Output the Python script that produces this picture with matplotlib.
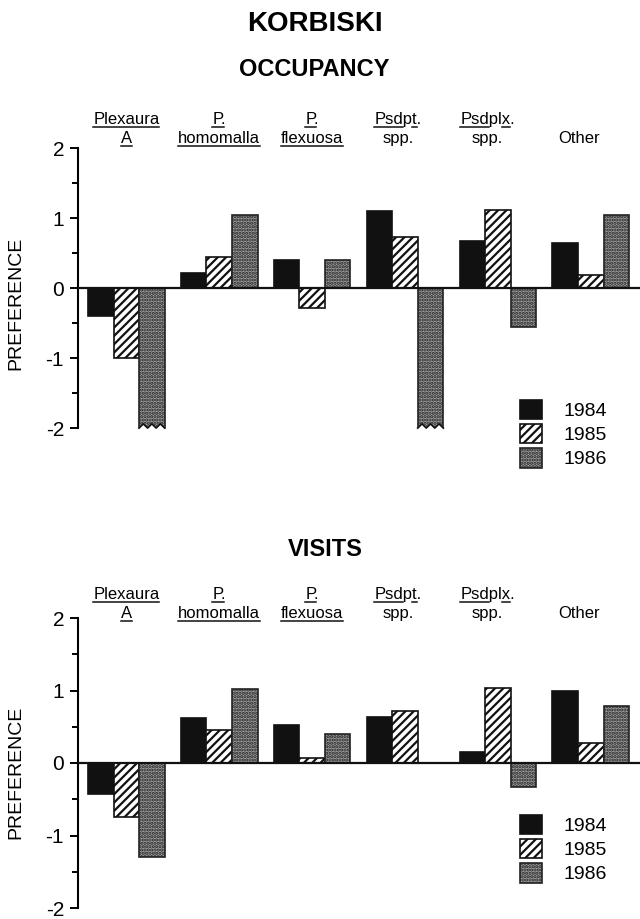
import matplotlib
matplotlib.use("Agg")
import matplotlib.pyplot as plt
import numpy as np
from matplotlib.patches import Patch
from matplotlib.lines import Line2D
from matplotlib.transforms import IdentityTransform, blended_transform_factory
from matplotlib.font_manager import FontProperties
from matplotlib.ticker import MultipleLocator

plt.rcParams["font.family"] = ["Liberation Sans", "DejaVu Sans"]
plt.rcParams["hatch.linewidth"] = 1.6

years = ["1984", "1985", "1986"]
# two-line category headings; spans give the underlined character ranges
cat_line1 = ["Plexaura", "P.", "P.", "Psdpt.", "Psdplx.", ""]
cat_line1_ul = [[(0, 8)], [(0, 1)], [(0, 1)], [(0, 3), (4, 5)], [(0, 3), (5, 6)], []]
cat_line2 = ["A", "homomalla", "flexuosa", "spp.", "spp.", "Other"]
cat_line2_ul = [[(0, 1)], [(0, 9)], [(0, 8)], [], [], []]

occ_1984 = [-0.40, 0.22, 0.40, 1.10, 0.67, 0.65]
occ_1985 = [-1.00, 0.44, -0.28, 0.73, 1.12, 0.18]
occ_1986 = [-2.00, 1.05, 0.40, -2.00, -0.55, 1.05]

vis_1984 = [-0.43, 0.62, 0.53, 0.63, 0.15, 1.00]
vis_1985 = [-0.75, 0.46, 0.07, 0.72, 1.03, 0.28]
vis_1986 = [-1.29, 1.02, 0.40, 0.00, -0.33, 0.78]

yticks = [-2, -1, 0, 1, 2]

styles = [
    dict(facecolor="#111111", edgecolor="#111111", hatch=None),
    dict(facecolor="white", edgecolor="#111111", hatch="////"),
    dict(facecolor="#a0a0a0", edgecolor="#222222", hatch="....."),
]

W, H = 640, 919
fig = plt.figure(figsize=(W / 100, H / 100), dpi=100)
renderer = fig.canvas.get_renderer()


def fy(px):
    # figure fraction from a pixel row counted from the top
    return 1 - px / H


fig.text(0.492, fy(24), "KORBISKI", ha="center", va="center", fontsize=20, fontweight="bold")
fig.text(0.491, fy(69), "OCCUPANCY", ha="center", va="center", fontsize=17, fontweight="bold")
fig.text(0.508, fy(550), "VISITS", ha="center", va="center", fontsize=17, fontweight="bold")

width = 0.275
x = np.arange(len(cat_line2))
label_dx = [0.0, 0.0, 0.0, -0.075, -0.11, -0.13]
label_prop = FontProperties(family="Liberation Sans", size=12)


def text_width(s):
    if not s:
        return 0.0
    w, h, d = renderer.get_text_width_height_descent(s, label_prop, ismath=False)
    return w


def underlined_label(ax, xd, ybase, s, spans):
    trans = blended_transform_factory(ax.transData, fig.transFigure)
    t = ax.text(xd, ybase, s, transform=trans, ha="center", va="baseline",
                fontproperties=label_prop)
    if not spans:
        return
    bb = t.get_window_extent(renderer)
    base = trans.transform((xd, ybase))[1]
    for a, b in spans:
        xa = bb.x0 + text_width(s[:a])
        xb = bb.x0 + text_width(s[:b])
        fig.add_artist(Line2D([xa, xb], [base - 2.5, base - 2.5], transform=IdentityTransform(),
                              color="#111111", lw=1.1))


def zigzag_bottom(ax, xc, val):
    # torn bottom edge for bars that run off the scale
    x0, x1 = xc - width / 2, xc + width / 2
    n = 6
    xs = np.linspace(x0, x1, n + 1)
    ys = np.where(np.arange(n + 1) % 2 == 0, val, val + 0.06)
    poly_x = np.concatenate([xs, [x1, x0]])
    poly_y = np.concatenate([ys, [val - 0.04, val - 0.04]])
    ax.fill(poly_x, poly_y, color="white", zorder=4, clip_on=False)
    ax.plot(xs, ys, color="#111111", lw=1.3, zorder=5, clip_on=False)


def panel(top2, bot2, series, line_rows, legend_top, ylabel_y):
    pad = 0.06
    unit = (bot2 - top2) / 4.0
    rect_top = top2 - pad * unit
    rect_bot = bot2 + pad * unit
    ax = fig.add_axes([78 / W, fy(rect_bot), 562 / W, (rect_bot - rect_top) / H])
    for k, (vals, st) in enumerate(zip(series, styles)):
        ax.bar(x + (k - 1) * width, vals, width, facecolor=st["facecolor"],
               edgecolor=st["edgecolor"], hatch=st["hatch"], linewidth=1.2,
               label=years[k], zorder=2)
        for xi, v in zip(x + (k - 1) * width, vals):
            if v <= -2:
                zigzag_bottom(ax, xi, v)
    ax.axhline(0, color="#111111", lw=1.6, zorder=3)
    ax.set_xlim(-0.52, 5.53)
    ax.set_ylim(-2 - pad, 2 + pad)
    for s in ["top", "right", "bottom"]:
        ax.spines[s].set_visible(False)
    ax.spines["left"].set_bounds(-2, 2)
    ax.spines["left"].set_linewidth(1.5)
    ax.set_xticks([])
    ax.set_yticks(yticks)
    ax.set_yticklabels([str(t) for t in yticks])
    ax.yaxis.set_minor_locator(MultipleLocator(0.5))
    ax.tick_params(axis="y", which="major", length=6, width=1.4, labelsize=15, pad=4)
    ax.tick_params(axis="y", which="minor", length=4, width=1.4)
    ax.set_ylabel("PREFERENCE", fontsize=14)
    ax.yaxis.set_label_coords(24 / W, fy(ylabel_y), transform=fig.transFigure)
    for i, xi in enumerate(x):
        xd = xi + label_dx[i]
        if cat_line1[i]:
            underlined_label(ax, xd, fy(line_rows[0]), cat_line1[i], cat_line1_ul[i])
        underlined_label(ax, xd, fy(line_rows[1]), cat_line2[i], cat_line2_ul[i])
    handles = [Patch(facecolor=st["facecolor"], edgecolor=st["edgecolor"],
                     hatch=st["hatch"], linewidth=1.2) for st in styles]
    ax.legend(handles, years, loc="upper left", bbox_to_anchor=(520 / W, fy(legend_top)),
              bbox_transform=fig.transFigure, borderpad=0, borderaxespad=0,
              frameon=False, fontsize=14, handlelength=1.15, handleheight=1.15,
              handletextpad=1.1, labelspacing=0.2)
    return ax


panel(148, 428, [occ_1984, occ_1985, occ_1986], (124, 143), 400, 303)
panel(618, 908, [vis_1984, vis_1985, vis_1986], (599, 618), 815, 772)

fig.savefig("out.png", dpi=100, facecolor="white")
